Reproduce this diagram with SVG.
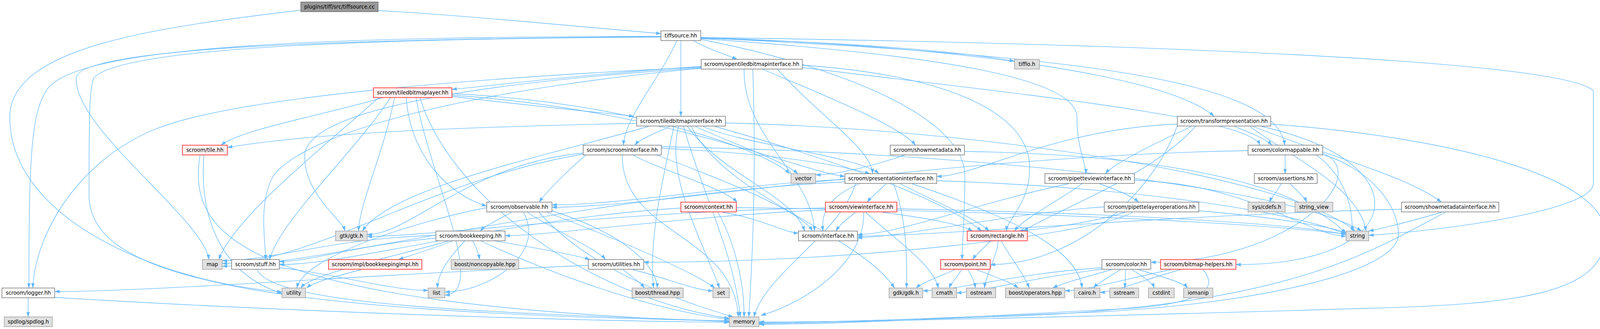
<svg xmlns="http://www.w3.org/2000/svg" width="4133" height="843" viewBox="0 0 4133 843">
<style>
.e{fill:none;stroke:#63b8ff;stroke-width:1.33;marker-end:url(#ah)}
.n rect{fill:#ffffff;stroke:#666666;stroke-width:1.33}
.x rect{fill:#e0e0e0;stroke:#999999;stroke-width:1.33}
.r rect{fill:#fff0f0;stroke:#ff0000;stroke-width:1.33}
.root rect{fill:#999999;stroke:#666666;stroke-width:1.33}
text{font-family:"DejaVu Sans",sans-serif;font-size:13.33px;text-anchor:middle;fill:#000000}
</style>
<defs>
<marker id="ah" markerWidth="13" markerHeight="9" refX="12.5" refY="4.5" orient="auto" markerUnits="userSpaceOnUse"><path d="M0,0 L13,4.5 L0,9 z" fill="#63b8ff"/></marker>
</defs>
<rect width="4133" height="843" fill="#ffffff"/>
<g id="edges">
<path class="e" d="M968,27 C1200,40 1500,70 1692,86"/>
<path class="e" d="M770,26 C400,70 25,120 25,300 C25,560 400,720 722,748"/>
<path class="e" d="M1775,104 C1810,125 1860,140 1887,152"/>
<path class="e" d="M1743,104 C1743,200 1743,200 1743,298"/>
<path class="e" d="M1733,104 C1690,200 1600,300 1596,372"/>
<path class="e" d="M1794,96 C2500,120 3000,200 3108,298"/>
<path class="e" d="M1794,97 C2700,140 3270,200 3289,372"/>
<path class="e" d="M1794,99 C2400,140 2757,200 2757,300 C2757,380 2780,420 2780,445"/>
<path class="e" d="M1794,101 C2150,170 2470,300 2470,450 C2470,560 2463,620 2463,665"/>
<path class="e" d="M1794,98 C2200,110 2450,130 2597,157"/>
<path class="e" d="M1692,93 C900,95 200,110 120,230 C80,290 74,400 74,738"/>
<path class="e" d="M1692,94 C900,100 200,120 195,200 C190,330 520,560 535,665"/>
<path class="e" d="M1794,96 C2800,110 4000,150 4079,233 L4079,470 C4079,540 3700,590 3504,603"/>
<path class="e" d="M1692,95 C800,100 300,130 240,200 C228,230 228,300 228,500 C228,700 600,800 1867,822"/>
<path class="e" d="M1795,170 C1500,190 1300,215 1157,229"/>
<path class="e" d="M1951,177 C2100,240 2300,320 2344,372"/>
<path class="e" d="M2054,173 C2600,240 3200,300 3225,372"/>
<path class="e" d="M2054,167 C2400,190 2636,280 2636,430 C2636,520 2580,560 2576,592"/>
<path class="e" d="M1990,177 C2100,300 2230,380 2234,445"/>
<path class="e" d="M1905,177 C1900,350 2080,450 2085,592"/>
<path class="e" d="M1795,172 C1200,200 600,250 400,330 C200,410 90,600 84,738"/>
<path class="e" d="M1795,174 C1400,200 780,260 780,400 C780,500 875,560 883,592"/>
<path class="e" d="M1795,175 C1300,220 800,320 700,450 C660,520 680,620 680,665"/>
<path class="e" d="M1927,177 C1935,400 1930,600 1917,812"/>
<path class="e" d="M980,250 C850,290 620,330 566,372"/>
<path class="e" d="M1157,247 C1350,270 1550,290 1623,298"/>
<path class="e" d="M1000,250 C900,400 720,560 690,665"/>
<path class="e" d="M970,250 C800,400 600,560 560,665"/>
<path class="e" d="M1010,250 C980,400 920,520 918,592"/>
<path class="e" d="M1040,250 C1050,400 1150,500 1246,528"/>
<path class="e" d="M1065,250 C1100,450 1250,751 1139,756"/>
<path class="e" d="M1157,240 C1600,260 1950,380 2022,445"/>
<path class="e" d="M1157,244 C1700,280 2050,440 2163,452"/>
<path class="e" d="M1075,250 C1150,500 1500,760 1867,816"/>
<path class="e" d="M1715,324 C1680,340 1640,355 1625,372"/>
<path class="e" d="M1630,316 C1200,325 800,340 582,378"/>
<path class="e" d="M1800,324 C1900,370 2200,400 2250,445"/>
<path class="e" d="M1780,324 C1880,370 2000,410 2043,445"/>
<path class="e" d="M1830,324 C2100,400 2400,500 2513,592"/>
<path class="e" d="M1760,324 C1850,450 2030,500 2060,592"/>
<path class="e" d="M1660,324 C1400,400 1000,480 928,592"/>
<path class="e" d="M1770,324 C1850,500 2200,600 2290,738"/>
<path class="e" d="M1737,324 C1705,450 1790,600 1842,738"/>
<path class="e" d="M1725,324 C1700,450 1660,600 1673,738"/>
<path class="e" d="M1857,315 C2500,330 3300,450 3469,592"/>
<path class="e" d="M1750,324 C1800,500 1880,650 1895,812"/>
<path class="e" d="M1620,397 C1700,440 1850,480 1887,518"/>
<path class="e" d="M1693,380 C1900,390 2100,410 2227,445"/>
<path class="e" d="M1680,397 C1850,460 2050,540 2080,592"/>
<path class="e" d="M1500,397 C1450,440 1400,490 1380,518"/>
<path class="e" d="M1493,392 C1200,420 1050,601 940,601"/>
<path class="e" d="M1493,395 C1100,460 800,675 569,675"/>
<path class="e" d="M1593,397 C1590,600 1880,600 1890,812"/>
<path class="e" d="M1693,376 C2500,390 3300,480 3486,592"/>
<path class="e" d="M3160,324 C3200,340 3240,355 3256,372"/>
<path class="e" d="M3014,318 C2700,330 2500,452 2398,452"/>
<path class="e" d="M3050,324 C2950,370 2850,420 2830,445"/>
<path class="e" d="M3060,324 C2950,450 2700,540 2620,592"/>
<path class="e" d="M3208,324 C3400,400 3600,450 3690,518"/>
<path class="e" d="M3230,324 C3650,420 3600,678 3164,678"/>
<path class="e" d="M3014,322 C2950,500 2750,678 2535,678"/>
<path class="e" d="M3253,318 C3700,350 4110,450 4110,600 C4110,750 3900,780 3500,790 C3000,805 2300,825 1943,825"/>
<path class="e" d="M3200,324 C3300,400 3480,480 3497,592"/>
<path class="e" d="M3290,397 C3290,420 3290,420 3290,445"/>
<path class="e" d="M3386,392 C3520,450 3300,672 2946,672"/>
<path class="e" d="M3195,386 C2400,400 1700,531 1413,531"/>
<path class="e" d="M3370,397 C3440,450 3462,520 3462,592"/>
<path class="e" d="M3386,396 C3500,430 3580,520 3580,600 C3580,700 3200,780 2800,800 C2400,815 2100,827 1943,827"/>
<path class="e" d="M2317,397 C2250,420 2150,448 2088,448"/>
<path class="e" d="M2469,388 C2900,395 3300,450 3446,598"/>
<path class="e" d="M2268,471 C2250,490 2230,505 2220,518"/>
<path class="e" d="M2200,471 C2130,500 2100,540 2107,592"/>
<path class="e" d="M2163,460 C1900,470 1600,525 1413,525"/>
<path class="e" d="M2305,471 C2400,520 2500,560 2532,592"/>
<path class="e" d="M2288,471 C2320,560 2322,650 2321,738"/>
<path class="e" d="M2335,471 C2600,560 2760,640 2770,738"/>
<path class="e" d="M2398,463 C2900,480 3300,540 3446,600"/>
<path class="e" d="M2190,471 C2150,600 1960,700 1930,812"/>
<path class="e" d="M2163,466 C1500,500 800,682 569,682"/>
<path class="e" d="M2815,471 C2870,490 2900,505 2915,518"/>
<path class="e" d="M2770,471 C2700,520 2620,560 2597,592"/>
<path class="e" d="M2735,471 C2500,520 2300,601 2195,601"/>
<path class="e" d="M2904,462 C3200,470 3350,605 3446,605"/>
<path class="e" d="M2880,544 C2800,570 2680,585 2608,592"/>
<path class="e" d="M2900,544 C2800,600 2200,672 1648,672"/>
<path class="e" d="M3069,540 C3250,555 3400,580 3446,596"/>
<path class="e" d="M2827,530 C2600,545 2300,609 2195,609"/>
<path class="e" d="M3280,471 C3270,490 3255,505 3250,518"/>
<path class="e" d="M3303,471 C3320,490 3340,505 3345,518"/>
<path class="e" d="M3690,544 C3620,565 3540,585 3504,592"/>
<path class="e" d="M3700,544 C3500,650 3300,780 2600,810 C2300,820 2100,829 1943,829"/>
<path class="e" d="M3588,536 C3000,550 2400,605 2195,605"/>
<path class="e" d="M2190,544 C2170,560 2150,575 2140,592"/>
<path class="e" d="M2260,544 C2380,560 2460,575 2490,592"/>
<path class="e" d="M2216,544 C2300,620 2390,680 2402,738"/>
<path class="e" d="M2211,544 C2215,680 2050,780 1948,808"/>
<path class="e" d="M2296,535 C2800,545 3300,570 3446,601"/>
<path class="e" d="M2113,533 C1600,540 1100,606 940,606"/>
<path class="e" d="M2113,538 C1800,550 1400,604 1293,604"/>
<path class="e" d="M1838,544 C1880,620 1905,720 1905,812"/>
<path class="e" d="M1850,544 C1950,560 2010,597 2044,597"/>
<path class="e" d="M1885,532 C2600,540 3200,570 3446,600"/>
<path class="e" d="M1743,533 C1300,560 900,678 715,678"/>
<path class="e" d="M1310,544 C1280,560 1240,580 1230,592"/>
<path class="e" d="M1350,544 C1420,590 1530,640 1550,665"/>
<path class="e" d="M1340,544 C1400,650 1250,748 1139,748"/>
<path class="e" d="M1413,540 C1600,600 1680,680 1683,738"/>
<path class="e" d="M1400,544 C1600,620 1780,700 1830,738"/>
<path class="e" d="M1380,544 C1500,680 1700,760 1877,812"/>
<path class="e" d="M1246,532 C1100,560 780,650 760,738"/>
<path class="e" d="M1160,617 C1100,640 1050,655 1020,665"/>
<path class="e" d="M1210,617 C1220,635 1225,650 1228,665"/>
<path class="e" d="M1265,617 C1400,640 1480,655 1510,665"/>
<path class="e" d="M1190,617 C1150,660 1120,700 1120,738"/>
<path class="e" d="M1230,617 C1450,720 1700,800 1867,818"/>
<path class="e" d="M1116,603 C850,610 700,668 569,668"/>
<path class="e" d="M1116,610 C900,630 800,670 715,670"/>
<path class="e" d="M1150,617 C1000,660 800,700 770,738"/>
<path class="e" d="M925,691 C850,710 800,725 785,738"/>
<path class="e" d="M1506,680 C1000,700 400,747 140,747"/>
<path class="e" d="M1595,691 C1620,710 1640,725 1650,738"/>
<path class="e" d="M1620,691 C1700,710 1780,745 1825,745"/>
<path class="e" d="M658,691 C700,780 1200,800 1867,823"/>
<path class="e" d="M715,686 C850,700 1000,744 1096,744"/>
<path class="e" d="M512,397 C480,600 600,780 1867,824"/>
<path class="e" d="M522,397 C510,550 560,700 722,752"/>
<path class="e" d="M72,764 C72,790 72,790 72,812"/>
<path class="e" d="M140,762 C600,790 1300,820 1867,826"/>
<path class="e" d="M2536,617 C2520,635 2500,650 2490,665"/>
<path class="e" d="M2555,617 C2555,650 2525,700 2520,738"/>
<path class="e" d="M2563,617 C2580,650 2620,700 2635,738"/>
<path class="e" d="M2445,691 C2400,710 2360,725 2345,738"/>
<path class="e" d="M2462,691 C2450,710 2435,725 2430,738"/>
<path class="e" d="M2478,691 C2490,710 2495,725 2497,738"/>
<path class="e" d="M2500,691 C2550,710 2590,725 2607,738"/>
<path class="e" d="M2821,686 C2600,700 2450,745 2362,745"/>
<path class="e" d="M2821,690 C2650,710 2500,750 2449,750"/>
<path class="e" d="M2845,691 C2780,710 2720,725 2695,738"/>
<path class="e" d="M2868,691 C2840,710 2810,725 2800,738"/>
<path class="e" d="M2882,691 C2881,710 2880,720 2880,738"/>
<path class="e" d="M2898,691 C2930,710 2950,725 2955,738"/>
<path class="e" d="M2915,691 C2980,710 3030,725 3040,738"/>
<path class="e" d="M2998,691 C2900,710 2780,745 2726,745"/>
<path class="e" d="M3022,691 C2950,710 2850,749 2816,749"/>
<path class="e" d="M3080,691 C3120,740 3080,775 2900,790 C2500,810 2200,831 1943,831"/>
</g>
<g id="node-tiffsource-cc" class="root"><rect x="770" y="5" width="198" height="25"/><text x="869" y="22">plugins/tiff/src/tiffsource.cc</text></g>
<g id="node-tiffsource-hh" class="n"><rect x="1692" y="79" width="102" height="25"/><text x="1743" y="96">tiffsource.hh</text></g>
<g id="node-opentiledbitmapinterface" class="n"><rect x="1795" y="152" width="259" height="25"/><text x="1924.5" y="169">scroom/opentiledbitmapinterface.hh</text></g>
<g id="node-tiffio" class="x"><rect x="2597" y="152" width="64" height="25"/><text x="2629" y="169">tiffio.h</text></g>
<g id="node-tiledbitmaplayer" class="r"><rect x="956" y="225" width="201" height="25"/><text x="1056.5" y="242">scroom/tiledbitmaplayer.hh</text></g>
<g id="node-tiledbitmapinterface" class="n"><rect x="1630" y="298" width="227" height="25"/><text x="1743.5" y="315">scroom/tiledbitmapinterface.hh</text></g>
<g id="node-transformpresentation" class="n"><rect x="3014" y="298" width="239" height="25"/><text x="3133.5" y="315">scroom/transformpresentation.hh</text></g>
<g id="node-tile" class="r"><rect x="467" y="372" width="115" height="25"/><text x="524.5" y="389">scroom/tile.hh</text></g>
<g id="node-scroominterface" class="n"><rect x="1493" y="372" width="200" height="25"/><text x="1593" y="389">scroom/scroominterface.hh</text></g>
<g id="node-showmetadata" class="n"><rect x="2279" y="372" width="190" height="25"/><text x="2374" y="389">scroom/showmetadata.hh</text></g>
<g id="node-colormappable" class="n"><rect x="3195" y="372" width="191" height="25"/><text x="3290.5" y="389">scroom/colormappable.hh</text></g>
<g id="node-vector" class="x"><rect x="2025" y="445" width="63" height="25"/><text x="2056.5" y="462">vector</text></g>
<g id="node-presentationinterface" class="n"><rect x="2163" y="445" width="235" height="25"/><text x="2280.5" y="462">scroom/presentationinterface.hh</text></g>
<g id="node-pipetteviewinterface" class="n"><rect x="2675" y="445" width="229" height="25"/><text x="2789.5" y="462">scroom/pipetteviewinterface.hh</text></g>
<g id="node-assertions" class="n"><rect x="3211" y="445" width="161" height="25"/><text x="3291.5" y="462">scroom/assertions.hh</text></g>
<g id="node-observable" class="n"><rect x="1246" y="518" width="167" height="25"/><text x="1329.5" y="535">scroom/observable.hh</text></g>
<g id="node-context" class="r"><rect x="1743" y="518" width="142" height="25"/><text x="1814" y="535">scroom/context.hh</text></g>
<g id="node-viewinterface" class="r"><rect x="2113" y="518" width="183" height="25"/><text x="2204.5" y="535">scroom/viewinterface.hh</text></g>
<g id="node-pipettelayeroperations" class="n"><rect x="2827" y="518" width="242" height="25"/><text x="2948" y="535">scroom/pipettelayeroperations.hh</text></g>
<g id="node-sys-cdefs" class="x"><rect x="3195" y="518" width="95" height="25"/><text x="3242.5" y="535">sys/cdefs.h</text></g>
<g id="node-string-view" class="x"><rect x="3315" y="518" width="97" height="25"/><text x="3363.5" y="535">string_view</text></g>
<g id="node-showmetadatainterface" class="n"><rect x="3588" y="518" width="249" height="25"/><text x="3712.5" y="535">scroom/showmetadatainterface.hh</text></g>
<g id="node-gtk" class="x"><rect x="859" y="592" width="81" height="25"/><text x="899.5" y="609">gtk/gtk.h</text></g>
<g id="node-bookkeeping" class="n"><rect x="1116" y="592" width="177" height="25"/><text x="1204.5" y="609">scroom/bookkeeping.hh</text></g>
<g id="node-interface" class="n"><rect x="2044" y="592" width="151" height="25"/><text x="2119.5" y="609">scroom/interface.hh</text></g>
<g id="node-rectangle" class="r"><rect x="2476" y="592" width="154" height="25"/><text x="2553" y="609">scroom/rectangle.hh</text></g>
<g id="node-string" class="x"><rect x="3446" y="592" width="58" height="25"/><text x="3475" y="609">string</text></g>
<g id="node-map" class="x"><rect x="518" y="665" width="51" height="25"/><text x="543.5" y="682">map</text></g>
<g id="node-stuff" class="n"><rect x="593" y="665" width="122" height="25"/><text x="654" y="682">scroom/stuff.hh</text></g>
<g id="node-bookkeepingimpl" class="r"><rect x="841" y="665" width="239" height="25"/><text x="960.5" y="682">scroom/impl/bookkeepingimpl.hh</text></g>
<g id="node-noncopyable" class="x"><rect x="1155" y="665" width="173" height="25"/><text x="1241.5" y="682">boost/noncopyable.hpp</text></g>
<g id="node-utilities" class="n"><rect x="1506" y="665" width="142" height="25"/><text x="1577" y="682">scroom/utilities.hh</text></g>
<g id="node-point" class="r"><rect x="2408" y="665" width="127" height="25"/><text x="2471.5" y="682">scroom/point.hh</text></g>
<g id="node-color" class="n"><rect x="2821" y="665" width="125" height="25"/><text x="2883.5" y="682">scroom/color.hh</text></g>
<g id="node-bitmap-helpers" class="r"><rect x="2971" y="665" width="193" height="25"/><text x="3067.5" y="682">scroom/bitmap-helpers.hh</text></g>
<g id="node-logger" class="n"><rect x="5" y="738" width="135" height="25"/><text x="72.5" y="755">scroom/logger.hh</text></g>
<g id="node-utility" class="x"><rect x="722" y="738" width="60" height="25"/><text x="752" y="755">utility</text></g>
<g id="node-list" class="x"><rect x="1096" y="738" width="43" height="25"/><text x="1117.5" y="755">list</text></g>
<g id="node-boost-thread" class="x"><rect x="1618" y="738" width="131" height="25"/><text x="1683.5" y="755">boost/thread.hpp</text></g>
<g id="node-set" class="x"><rect x="1825" y="738" width="42" height="25"/><text x="1846" y="755">set</text></g>
<g id="node-gdk" class="x"><rect x="2276" y="738" width="86" height="25"/><text x="2319" y="755">gdk/gdk.h</text></g>
<g id="node-cmath" class="x"><rect x="2386" y="738" width="63" height="25"/><text x="2417.5" y="755">cmath</text></g>
<g id="node-ostream" class="x"><rect x="2474" y="738" width="75" height="25"/><text x="2511.5" y="755">ostream</text></g>
<g id="node-boost-operators" class="x"><rect x="2574" y="738" width="152" height="25"/><text x="2650" y="755">boost/operators.hpp</text></g>
<g id="node-cairo" class="x"><rect x="2750" y="738" width="66" height="25"/><text x="2783" y="755">cairo.h</text></g>
<g id="node-sstream" class="x"><rect x="2841" y="738" width="74" height="25"/><text x="2878" y="755">sstream</text></g>
<g id="node-cstdint" class="x"><rect x="2940" y="738" width="66" height="25"/><text x="2973" y="755">cstdint</text></g>
<g id="node-iomanip" class="x"><rect x="3030" y="738" width="75" height="25"/><text x="3067.5" y="755">iomanip</text></g>
<g id="node-spdlog" class="x"><rect x="11" y="812" width="123" height="25"/><text x="72.5" y="829">spdlog/spdlog.h</text></g>
<g id="node-memory" class="x"><rect x="1867" y="812" width="76" height="25"/><text x="1905" y="829">memory</text></g>
</svg>
